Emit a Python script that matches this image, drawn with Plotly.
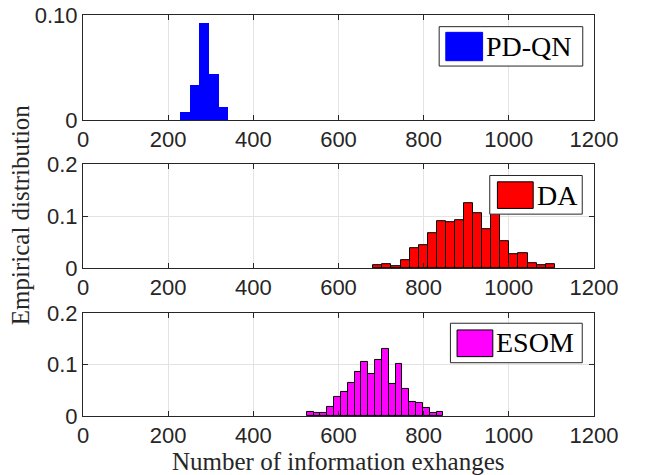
import numpy as np
import plotly.graph_objects as go

# ---------------- data ----------------
pdqn_label = "PD-QN"
pdqn_bin_start = 228.0
pdqn_bin_width = 22.7
pdqn_values = [0.0073, 0.0333, 0.0927, 0.0435, 0.0127]

da_label = "DA"
da_bin_start = 681.8
da_bin_width = 21.3
da_values = [0.0057, 0.0076, 0.0038, 0.0153, 0.0376, 0.0440, 0.0675, 0.0904,
             0.0879, 0.0917, 0.1240, 0.1057, 0.0758, 0.1120, 0.0522, 0.0268,
             0.0293, 0.0096, 0.0051, 0.0076]

esom_label = "ESOM"
esom_bin_start = 525.3
esom_bin_width = 16.05
esom_values = [0.0077, 0.0058, 0.0058, 0.0167, 0.0372, 0.0474, 0.0635, 0.0859,
               0.1058, 0.0814, 0.1096, 0.1295, 0.0615, 0.1013, 0.0532, 0.0276,
               0.0256, 0.0147, 0.0058, 0.0083]

x_tick_values = [0, 200, 400, 600, 800, 1000, 1200]
x_tick_labels = ["0", "200", "400", "600", "800", "1000", "1200"]
y_ticks_top = [0, 0.1]
y_ticklabels_top = ["0", "0.10"]
y_ticks_lower = [0, 0.1, 0.2]
y_ticklabels_lower = ["0", "0.1", "0.2"]

x_title = "Number of information exhanges"
y_title = "Empirical distribution"

# ---------------- figure ----------------
W, H = 645, 475
ML, MR, MT, MB = 83, 51, 15, 59
AXC = "#262626"
GRID = "#e3e3e3"
TICKFONT = dict(family="Liberation Sans, Arial, sans-serif", size=22, color=AXC)
SERIF = "Liberation Serif, Times New Roman, serif"

def centers(start, width, n):
    return start + width * (np.arange(n) + 0.5)

panels = [
    dict(label=pdqn_label, start=pdqn_bin_start, width=pdqn_bin_width, vals=pdqn_values,
         color="#0000ff", edge="#0000ff", edgew=0, ydom=[0.738, 1.0], yr=[0, 0.1],
         yt=y_ticks_top, ytl=y_ticklabels_top,
         box=[0.697, 0.514, 0.978, 0.889], sw=[0.710, 0.565, 0.782, 0.835], tx=[0.785, 0.70]),
    dict(label=da_label, start=da_bin_start, width=da_bin_width, vals=da_values,
         color="#ff0000", edge="#000000", edgew=1, ydom=[0.369, 0.628], yr=[0, 0.2],
         yt=y_ticks_lower, ytl=y_ticklabels_lower,
         box=[0.796, 0.519, 0.977, 0.891], sw=[0.811, 0.574, 0.881, 0.830], tx=[0.884, 0.702]),
    dict(label=esom_label, start=esom_bin_start, width=esom_bin_width, vals=esom_values,
         color="#ff00ff", edge="#000000", edgew=1, ydom=[0.0, 0.257], yr=[0, 0.2],
         yt=y_ticks_lower, ytl=y_ticklabels_lower,
         box=[0.719, 0.517, 0.977, 0.900], sw=[0.732, 0.576, 0.802, 0.835], tx=[0.805, 0.709]),
]

fig = go.Figure()
shapes = []
annotations = []
for i, p in enumerate(panels, start=1):
    xa = "x" if i == 1 else f"x{i}"
    ya = "y" if i == 1 else f"y{i}"
    fig.add_trace(go.Bar(
        x=centers(p["start"], p["width"], len(p["vals"])),
        y=p["vals"],
        width=p["width"],
        marker=dict(color=p["color"], line=dict(color=p["edge"], width=p["edgew"])),
        name=p["label"], showlegend=False, xaxis=xa, yaxis=ya,
    ))
    xkey = "xaxis" if i == 1 else f"xaxis{i}"
    ykey = "yaxis" if i == 1 else f"yaxis{i}"
    fig.update_layout(**{
        xkey: dict(domain=[0, 1], range=[0, 1200], anchor=ya, automargin=False,
                   tickvals=x_tick_values, ticktext=x_tick_labels,
                   ticks="inside", ticklen=5, tickcolor=AXC, tickwidth=1,
                   showline=True, linecolor=AXC, linewidth=1, mirror="ticks",
                   showgrid=True, gridcolor=GRID, gridwidth=1, zeroline=False,
                   tickfont=TICKFONT, fixedrange=True),
        ykey: dict(domain=p["ydom"], range=p["yr"], anchor=xa, automargin=False,
                   tickvals=p["yt"], ticktext=p["ytl"],
                   ticks="inside", ticklen=5, tickcolor=AXC, tickwidth=1,
                   showline=True, linecolor=AXC, linewidth=1, mirror="ticks",
                   showgrid=True, gridcolor=GRID, gridwidth=1, zeroline=False,
                   tickfont=TICKFONT, fixedrange=True),
    })
    xd = f"{xa} domain"
    yd = f"{ya} domain"
    b = p["box"]
    shapes.append(dict(type="rect", xref=xd, yref=yd, x0=b[0], y0=b[1], x1=b[2], y1=b[3],
                       fillcolor="white", line=dict(color=AXC, width=1), layer="above"))
    s = p["sw"]
    shapes.append(dict(type="rect", xref=xd, yref=yd, x0=s[0], y0=s[1], x1=s[2], y1=s[3],
                       fillcolor=p["color"],
                       line=dict(color=p["edge"] if p["edgew"] else p["color"], width=1),
                       layer="above"))
    annotations.append(dict(xref=xd, yref=yd, x=p["tx"][0], y=p["tx"][1],
                            xanchor="left", yanchor="middle", showarrow=False,
                            text=p["label"], font=dict(family=SERIF, size=28, color="black")))

annotations.append(dict(xref="paper", yref="paper", x=0.5, y=-0.1147,
                        xanchor="center", yanchor="middle", showarrow=False,
                        text=x_title, font=dict(family=SERIF, size=25, color=AXC)))
annotations.append(dict(xref="paper", yref="paper", x=-0.123, y=0.501,
                        xanchor="center", yanchor="middle", showarrow=False, textangle=-90,
                        text=y_title, font=dict(family=SERIF, size=25, color=AXC)))

fig.update_layout(
    width=W, height=H,
    margin=dict(l=ML, r=MR, t=MT, b=MB, pad=0, autoexpand=False),
    paper_bgcolor="white", plot_bgcolor="white",
    bargap=0, barmode="overlay",
    shapes=shapes, annotations=annotations,
    showlegend=False,
)

fig.write_html("out.html", config={"displayModeBar": False})
